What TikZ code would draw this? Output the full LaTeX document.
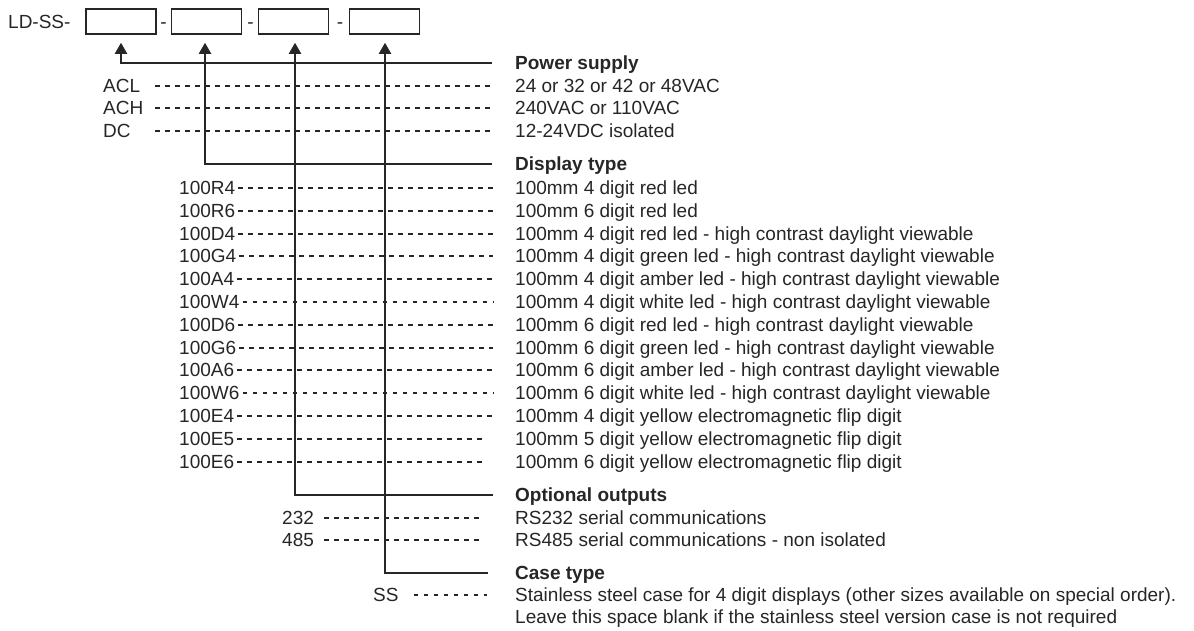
\documentclass[tikz,border=0pt]{standalone}
\usepackage{fontspec}
\setmainfont{Liberation Sans}
\usetikzlibrary{arrows.meta}
\definecolor{ink}{HTML}{262626}
\begin{document}
\begin{tikzpicture}[x=1pt,y=-1pt,
  txt/.style={inner sep=0pt, anchor=west, text height=13.6pt, text depth=0pt,
    font=\fontsize{19}{22}\selectfont, text=ink},
  hdr/.style={txt, font=\fontsize{19}{22}\selectfont\bfseries},
  codebox/.style={draw=ink, line width=1.5pt, minimum width=70pt, minimum height=25pt, inner sep=0pt},
  lead/.style={draw=ink, line width=1.8pt, dash pattern=on 4.5pt off 5.5pt},
  feed/.style={draw=ink, line width=2pt, -{Triangle[width=12pt,length=11pt]}, shorten >=8pt},
]
\useasboundingbox (0,0) rectangle (1194,630);

% code line
\node[txt] (pre) at (8,21.5) {LD-SS-};
\node[codebox] (b1) at (121,21.5) {};
\node[codebox] (b2) at (206.5,21.5) {};
\node[codebox] (b3) at (293.5,21.5) {};
\node[codebox] (b4) at (384.5,21.5) {};
\node[txt,anchor=center] (s1) at (163.5,21.5) {-};
\node[txt,anchor=center] (s2) at (250.5,21.5) {-};
\node[txt,anchor=center] (s3) at (340,21.5) {-};

% headers
\node[hdr] (hP) at (515,63) {Power supply};
\node[hdr] (hD) at (515,164) {Display type};
\node[hdr] (hO) at (515,495) {Optional outputs};
\node[hdr] (hC) at (515,573) {Case type};

\coordinate (eP) at (492,63);
\coordinate (eD) at (492,164);
\coordinate (eO) at (493,495);
\coordinate (eC) at (488,573);

\draw[feed] (eP) -| (b1.south);
\draw[feed] (eD) -| ([xshift=-1.5pt]b2.south);
\draw[feed] (eO) -| ([xshift=1.5pt]b3.south);
\draw[feed] (eC) -| ([xshift=0.5pt]b4.south);

% power supply
\foreach [count=\i from 0] \c/\t/\yy in {ACL/{24 or 32 or 42 or 48VAC}/86, ACH/{240VAC or 110VAC}/108, DC/{12-24VDC isolated}/131} {
  \node[txt] (pl\i) at (103,\yy) {\c};
  \node[txt] (pd\i) at (515,\yy) {\t};
  \draw[lead] (155,\yy) -- ([xshift=-23pt]pd\i.west);
}

% display type
\foreach [count=\i from 0, evaluate=\i as \yy using {round(188+\i*22.8)}] \c/\t/\e in {
  100R4/{100mm 4 digit red led}/22,
  100R6/{100mm 6 digit red led}/22,
  100D4/{100mm 4 digit red led - high contrast daylight viewable}/22,
  100G4/{100mm 4 digit green led - high contrast daylight viewable}/22,
  100A4/{100mm 4 digit amber led - high contrast daylight viewable}/22,
  100W4/{100mm 4 digit white led - high contrast daylight viewable}/22,
  100D6/{100mm 6 digit red led - high contrast daylight viewable}/22,
  100G6/{100mm 6 digit green led - high contrast daylight viewable}/22,
  100A6/{100mm 6 digit amber led - high contrast daylight viewable}/22,
  100W6/{100mm 6 digit white led - high contrast daylight viewable}/22,
  100E4/{100mm 4 digit yellow electromagnetic flip digit}/22,
  100E5/{100mm 5 digit yellow electromagnetic flip digit}/28,
  100E6/{100mm 6 digit yellow electromagnetic flip digit}/28} {
  \node[txt] (dl\i) at (179,\yy) {\c};
  \node[txt] (dd\i) at (515,\yy) {\t};
  \draw[lead] ([xshift=3pt]dl\i.east) -- ([xshift=-\e pt]dd\i.west);
}

% optional outputs
\foreach [count=\i from 0] \c/\t/\yy in {232/{RS232 serial communications}/518, 485/{RS485 serial communications - non isolated}/540} {
  \node[txt] (ol\i) at (282,\yy) {\c};
  \node[txt] (od\i) at (515,\yy) {\t};
  \draw[lead] ([xshift=10pt]ol\i.east) -- ([xshift=-33pt]od\i.west);
}

% case type
\node[txt] (cl0) at (373,595) {SS};
\node[txt] (cd0) at (515,595) {Stainless steel case for 4 digit displays (other sizes available on special order).};
\node[txt] (cd1) at (515,617) {Leave this space blank if the stainless steel version case is not required};
\draw[lead] ([xshift=15pt]cl0.east) -- ([xshift=-28pt]cd0.west);
\end{tikzpicture}
\end{document}
